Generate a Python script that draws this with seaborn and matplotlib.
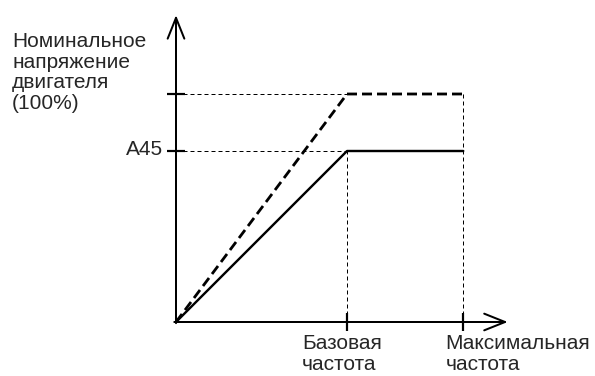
import matplotlib
matplotlib.use("Agg")
import matplotlib.pyplot as plt
import seaborn as sns

# Данные характеристики U/f (частота в долях базовой, напряжение в %)
freq = [0.0, 1.0, 1.68]
v_nominal = [0, 100, 100]     # номинальное напряжение двигателя
v_a45 = [0, 75, 75]           # напряжение, заданное параметром A45
base_freq = freq[1]
max_freq = freq[2]
ytick_labels = {75: "A45", 100: ""}
y_title = "Номинальное\nнапряжение\nдвигателя\n(100%)"
x_labels = ["Базовая\nчастота", "Максимальная\nчастота"]

X_END = 1.94
Y_END = 134.6

sns.set_style("white")
plt.rcParams["font.family"] = ["Liberation Sans", "DejaVu Sans"]
plt.rcParams["lines.scale_dashes"] = False

PX = 0.72  # 1 px в пунктах при dpi=100

fig = plt.figure(figsize=(5.95, 3.76), dpi=100)
ax = fig.add_axes([0, 0, 1, 1])
ax.set_xlim(-176 / 171, 419 / 171)
ax.set_ylim(-54 / 228 * 100, 322 / 228 * 100)

# вспомогательные тонкие пунктирные линии
thin = dict(color="black", linewidth=1.0 * PX, linestyle=(0, (4 * PX, 3 * PX)))
ax.hlines([v_nominal[1], v_a45[1]], 0, base_freq, **thin)
ax.vlines(base_freq, 0, v_a45[1], **thin)
ax.vlines(max_freq, 0, v_nominal[2], **thin)

# характеристики
sns.lineplot(x=freq, y=v_nominal, ax=ax, color="black", linewidth=2.8 * PX,
             linestyle=(0, (10 * PX, 5 * PX)), estimator=None)
sns.lineplot(x=freq, y=v_a45, ax=ax, color="black", linewidth=2.4 * PX,
             estimator=None)

# оси со стрелками
for spine in ax.spines.values():
    spine.set_visible(False)
ax.spines["left"].set_position(("data", 0))
ax.spines["bottom"].set_position(("data", 0))
arrow = dict(arrowstyle="->,head_length=0.75,head_width=0.3", color="black",
             linewidth=2 * PX, shrinkA=0, shrinkB=0, mutation_scale=20)
ax.annotate("", xy=(X_END, 0), xytext=(-0.01, 0), arrowprops=arrow)
ax.annotate("", xy=(0, Y_END), xytext=(0, -0.5), arrowprops=arrow)

# засечки
ax.set_yticks(list(ytick_labels.keys()))
ax.set_yticklabels([])
ax.set_xticks([base_freq, max_freq])
ax.set_xticklabels([])
ax.tick_params(axis="both", direction="inout", length=18 * PX, width=2.2 * PX,
               color="black", left=True, bottom=True)

# подписи
fs = 15
ax.annotate(ytick_labels[75], xy=(0, 75), xytext=(-13 * PX, 2 * PX),
            textcoords="offset points", ha="right", va="center", fontsize=fs)
ax.annotate(y_title, xy=(0, 100), xytext=(-164 * PX, 62 * PX),
            textcoords="offset points", ha="left", va="top", fontsize=fs,
            linespacing=1.1)
ax.annotate(x_labels[0], xy=(base_freq, 0), xytext=(-45 * PX, -12 * PX),
            textcoords="offset points", ha="left", va="top", fontsize=fs,
            linespacing=1.1)
ax.annotate(x_labels[1], xy=(max_freq, 0), xytext=(-18 * PX, -12 * PX),
            textcoords="offset points", ha="left", va="top", fontsize=fs,
            linespacing=1.1)

fig.savefig("out.png", dpi=100)
